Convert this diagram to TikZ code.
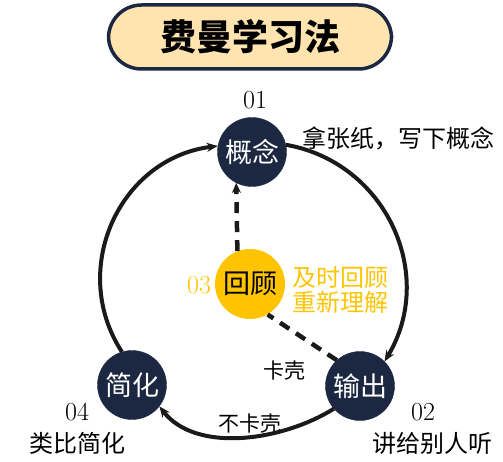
\documentclass[tikz,border=0pt]{standalone}
\usepackage{fontspec}
\newfontfamily\cjk{Noto Sans CJK SC}
\usetikzlibrary{arrows.meta}
\definecolor{navy}{HTML}{1C2841}
\definecolor{titlefill}{HTML}{FFE4B0}
\definecolor{gold}{HTML}{FFC400}
\definecolor{ink}{HTML}{1A1A1A}
\begin{document}
\begin{tikzpicture}[x=1pt,y=1pt,
  stepnode/.style={circle,fill=navy,draw=navy,minimum size=69pt,inner sep=0pt,text=white,font=\cjk\fontsize{27}{27}\selectfont},
  revnode/.style={circle,fill=gold,minimum size=70pt,inner sep=0pt,text=black,font=\cjk\fontsize{27}{27}\selectfont},
  numlabel/.style={font=\fontsize{26}{26}\selectfont,inner sep=0pt},
  desc/.style={font=\cjk\fontsize{24}{24}\selectfont,inner sep=0pt},
  small/.style={font=\cjk\fontsize{21}{21}\selectfont,inner sep=0pt},
  cycle/.style={draw=ink,line width=4pt,-{Stealth[length=11pt,width=9pt]}},
  dashline/.style={draw=ink,line width=4.5pt,dash pattern=on 11pt off 8pt},
]
\useasboundingbox (0,0) rectangle (503,461);
% title
\node[draw=navy,line width=3.5pt,fill=titlefill,rounded corners=33pt,minimum width=283pt,minimum height=64pt,inner sep=0pt,font=\cjk\bfseries\fontsize{36}{36}\selectfont] (title) at (250,424) {费曼学习法};
% nodes
\node[stepnode] (gn) at (252,309) {概念};
\node[stepnode] (sc) at (360,75) {输出};
\node[stepnode] (jh) at (132,76) {简化};
\node[revnode] (hg) at (250,177) {回顾};
% labels
\node[numlabel] (n1) at (255,361) {01};
\node[numlabel] (n2) at (423,49) {02};
\node[numlabel,text=gold] (n3) at (199,176) {03};
\node[numlabel] (n4) at (77,49) {04};
\node[desc] (d1) at (398,323) {拿张纸，写下概念};
\node[desc] (d2) at (432,18) {讲给别人听};
\node[desc] (d4) at (77,18) {类比简化};
\node[desc,text=gold] (d3a) at (340,184) {及时回顾};
\node[desc,text=gold] (d3b) at (340,159) {重新理解};
\node[small] (kk) at (284,90) {卡壳};
\node[small] (bkk) at (250,37) {不卡壳};
% cycle arcs
\draw[cycle] (jh.107) to[out=123,in=187,looseness=1.11] (gn.170);
\draw[cycle] (gn.12) to[out=-10,in=59,looseness=1.09] (sc.45);
\draw[cycle] (sc.221) to[out=212,in=-52,looseness=0.88] (jh.-38);
% dashed review path
\draw[dashline] (sc.132) -- (hg.-60);
\draw[dashline,-{Stealth[length=10pt,width=9pt]}] (hg.111) -- (gn.-117);
\end{tikzpicture}
\end{document}
